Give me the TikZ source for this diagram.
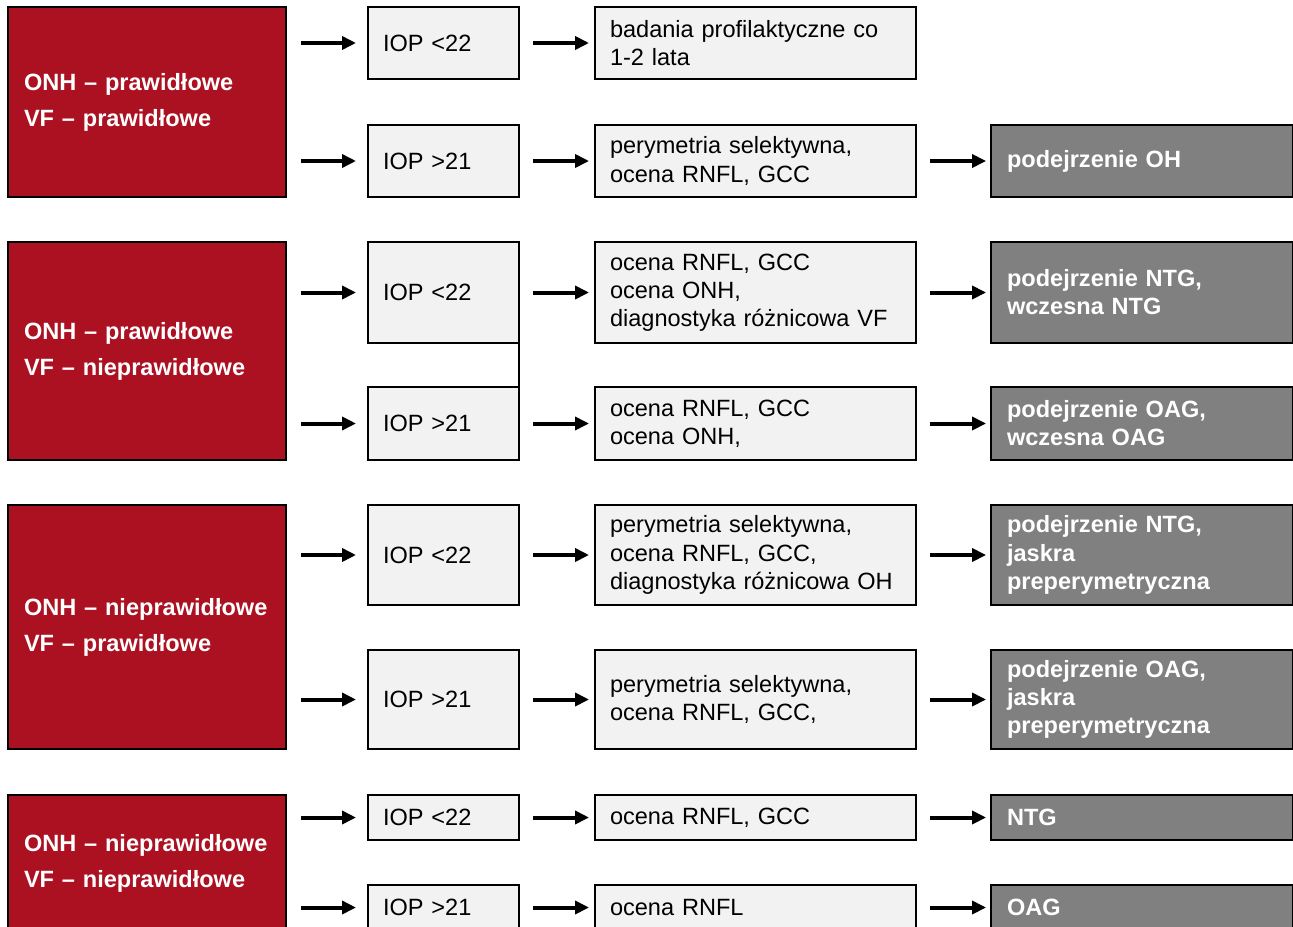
\documentclass[tikz,border=0pt]{standalone}
\usepackage{fontspec}
\setmainfont{Liberation Sans}
\usepackage{xcolor}
\usepackage{tikz}
\definecolor{onhred}{RGB}{172,17,34}
\definecolor{resgray}{RGB}{128,128,128}
\definecolor{boxbg}{RGB}{242,242,242}
\usetikzlibrary{arrows.meta, positioning, calc}

\begin{document}
\begin{tikzpicture}[x=0.02cm, y=-0.02cm,
    redbox/.style={rectangle, draw=black, line width=1.1pt, fill=onhred,
                text=white, minimum width=5.56cm, text width=4.92cm,
                inner xsep=0.32cm, align=left,
                font=\fontsize{13.4}{20.5}\selectfont\bfseries},
    iopbox/.style={rectangle, draw=black, line width=1.1pt, fill=boxbg,
                minimum width=3.02cm, text width=2.42cm, inner xsep=0.3cm,
                outer sep=0pt, align=left, font=\fontsize{13.4}{16}\selectfont},
    resbox/.style={iopbox, minimum width=6.42cm, text width=5.82cm},
    wynbox/.style={rectangle, draw=black, line width=1.1pt, fill=resgray,
                text=white, minimum width=6.04cm, text width=5.40cm,
                inner xsep=0.32cm, align=left,
                font=\fontsize{13.4}{16}\selectfont\bfseries},
    arr/.style={-{Triangle[length=0.28cm,width=0.26cm]}, line width=0.08cm},
    arrA/.style={arr, shorten <=0.28cm, shorten >=0.24cm},
    arrB/.style={arr, shorten <=0.28cm, shorten >=0.12cm},
    arrC/.style={arr, shorten <=0.28cm, shorten >=0.08cm}
]
    \useasboundingbox (0,0) rectangle (1293,926);
    \clip (0,0) rectangle (1293,926);

    % ONH prawidlowe, VF prawidlowe
    \node[redbox, minimum height=3.8cm]  (red1)  at (147,102)    {ONH – prawidłowe\\VF – prawidłowe};
    \node[iopbox, minimum height=1.44cm] (iop1a) at (443.5,43)   {IOP <22};
    \node[resbox, minimum height=1.44cm] (res1a) at (755.5,43)   {badania profilaktyczne co\\1-2 lata};
    \node[iopbox, minimum height=1.44cm] (iop1b) at (443.5,161)  {IOP >21};
    \node[resbox, minimum height=1.44cm] (res1b) at (755.5,161)  {perymetria selektywna,\\ocena RNFL, GCC};
    \node[wynbox, minimum height=1.44cm] (wyn1b) at (1142,161)   {podejrzenie OH};

    % ONH prawidlowe, VF nieprawidlowe
    \node[redbox, minimum height=4.36cm] (red2)  at (147,351)    {ONH – prawidłowe\\VF – nieprawidłowe};
    \node[iopbox, minimum height=2.02cm] (iop2a) at (443.5,292.5) {IOP <22};
    \node[resbox, minimum height=2.02cm] (res2a) at (755.5,292.5) {ocena RNFL, GCC\\ocena ONH,\\diagnostyka różnicowa VF};
    \node[wynbox, minimum height=2.02cm] (wyn2a) at (1142,292.5)  {podejrzenie NTG,\\wczesna NTG};
    \node[iopbox, minimum height=1.46cm] (iop2b) at (443.5,423.5) {IOP >21};
    \node[resbox, minimum height=1.46cm] (res2b) at (755.5,423.5) {ocena RNFL, GCC\\ocena ONH,};
    \node[wynbox, minimum height=1.46cm] (wyn2b) at (1142,423.5)  {podejrzenie OAG,\\wczesna OAG};

    % ONH nieprawidlowe, VF prawidlowe
    \node[redbox, minimum height=4.88cm] (red3)  at (147,627)    {ONH – nieprawidłowe\\VF – prawidłowe};
    \node[iopbox, minimum height=2.0cm]  (iop3a) at (443.5,555)  {IOP <22};
    \node[resbox, minimum height=2.0cm]  (res3a) at (755.5,555)  {perymetria selektywna,\\ocena RNFL, GCC,\\diagnostyka różnicowa OH};
    \node[wynbox, minimum height=2.0cm]  (wyn3a) at (1142,555)   {podejrzenie NTG,\\jaskra\\preperymetryczna};
    \node[iopbox, minimum height=1.98cm] (iop3b) at (443.5,699.5) {IOP >21};
    \node[resbox, minimum height=1.98cm] (res3b) at (755.5,699.5) {perymetria selektywna,\\ocena RNFL, GCC,};
    \node[wynbox, minimum height=1.98cm] (wyn3b) at (1142,699.5)  {podejrzenie OAG,\\jaskra\\preperymetryczna};

    % ONH nieprawidlowe, VF nieprawidlowe
    \node[redbox, minimum height=2.74cm] (red4)  at (147,863.5)  {ONH – nieprawidłowe\\VF – nieprawidłowe};
    \node[iopbox, minimum height=0.9cm]  (iop4a) at (443.5,817.5) {IOP <22};
    \node[resbox, minimum height=0.9cm]  (res4a) at (755.5,817.5) {ocena RNFL, GCC};
    \node[wynbox, minimum height=0.9cm]  (wyn4a) at (1142,817.5)  {NTG};
    \node[iopbox, minimum height=0.9cm]  (iop4b) at (443.5,907.5) {IOP >21};
    \node[resbox, minimum height=0.9cm]  (res4b) at (755.5,907.5) {ocena RNFL};
    \node[wynbox, minimum height=0.9cm]  (wyn4b) at (1142,907.5)  {OAG};

    \draw[line width=1.1pt] (iop2a.south east) -- (iop2b.north east);

    \draw[arrA] (red1.east |- iop1a) -- (iop1a);
    \draw[arrA] (red1.east |- iop1b) -- (iop1b);
    \draw[arrA] (red2.east |- iop2a) -- (iop2a);
    \draw[arrA] (red2.east |- iop2b) -- (iop2b);
    \draw[arrA] (red3.east |- iop3a) -- (iop3a);
    \draw[arrA] (red3.east |- iop3b) -- (iop3b);
    \draw[arrA] (red4.east |- iop4a) -- (iop4a);
    \draw[arrA] (red4.east |- iop4b) -- (iop4b);

    \draw[arrB] (iop1a) -- (res1a);
    \draw[arrB] (iop1b) -- (res1b);
    \draw[arrB] (iop2a) -- (res2a);
    \draw[arrB] (iop2b) -- (res2b);
    \draw[arrB] (iop3a) -- (res3a);
    \draw[arrB] (iop3b) -- (res3b);
    \draw[arrB] (iop4a) -- (res4a);
    \draw[arrB] (iop4b) -- (res4b);

    \draw[arrC] (res1b) -- (wyn1b);
    \draw[arrC] (res2a) -- (wyn2a);
    \draw[arrC] (res2b) -- (wyn2b);
    \draw[arrC] (res3a) -- (wyn3a);
    \draw[arrC] (res3b) -- (wyn3b);
    \draw[arrC] (res4a) -- (wyn4a);
    \draw[arrC] (res4b) -- (wyn4b);
\end{tikzpicture}
\end{document}
